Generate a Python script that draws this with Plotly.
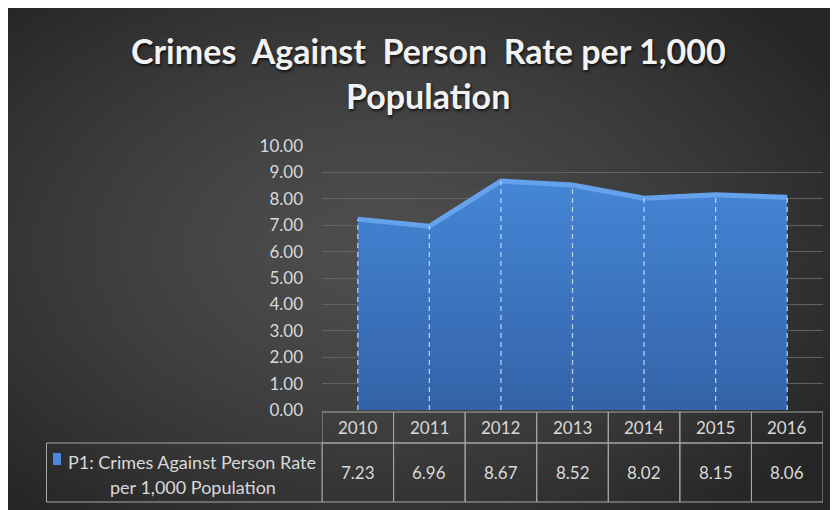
import zlib, struct, base64
import numpy as np
import plotly.graph_objects as go

# ---- data ----
years = ["2010", "2011", "2012", "2013", "2014", "2015", "2016"]
rates = [7.23, 6.96, 8.67, 8.52, 8.02, 8.15, 8.06]
title_lines = ["Crimes  Against  Person  Rate per 1,000", "Population"]
label_lines = ["P1: Crimes Against Person Rate", "per 1,000 Population"]
y_ticks = [0, 1, 2, 3, 4, 5, 6, 7, 8, 9, 10]

# ---- geometry: the page has an 8px body margin, so screen px = figure px + 8 ----
OFF = 8
W, H = 830, 502
ML, MR, MT, MB = 314, 15, 138, 100
PW, PH = W - ML - MR, H - MT - MB


def px_x(p):  # screen pixel -> paper x
    return (p - OFF - ML) / PW


def px_y(p):  # screen pixel -> paper y
    return (H - MB - (p - OFF)) / PH


def gradient_png(w, h, c_in=78, c_out=38, cx=0.45, cy=0.48):
    xs = np.linspace(0, 1, w)
    ys = np.linspace(0, 1, h)
    X, Y = np.meshgrid(xs, ys)
    r = np.sqrt(((X - cx) / 0.65) ** 2 + ((Y - cy) / 0.7) ** 2)
    r = np.clip(r, 0, 1)
    v = (c_in - (c_in - c_out) * r ** 1.4).astype(np.uint8)
    img = np.stack([v, v, v], axis=-1)
    raw = b"".join(b"\x00" + img[j].tobytes() for j in range(h))

    def chunk(t, d):
        return struct.pack(">I", len(d)) + t + d + struct.pack(">I", zlib.crc32(t + d) & 0xFFFFFFFF)

    png = (b"\x89PNG\r\n\x1a\n"
           + chunk(b"IHDR", struct.pack(">IIBBBBB", w, h, 8, 2, 0, 0, 0))
           + chunk(b"IDAT", zlib.compress(raw, 9))
           + chunk(b"IEND", b""))
    return "data:image/png;base64," + base64.b64encode(png).decode()


fig = go.Figure()

# area
fig.add_trace(go.Scatter(
    x=years, y=rates, mode="lines", fill="tozeroy",
    fillgradient=dict(type="vertical", colorscale=[[0, "#3363a8"], [1, "#4586d6"]]),
    line=dict(color="#66a2ec", width=5),
    hoverinfo="skip", showlegend=False,
))

# dashed drop lines at each category
dx, dy = [], []
for yr, v in zip(years, rates):
    dx += [yr, yr, None]
    dy += [0, v, None]
fig.add_trace(go.Scatter(
    x=dx, y=dy, mode="lines",
    line=dict(color="rgba(205,222,245,0.85)", width=1.3, dash="5px,4px"),
    hoverinfo="skip", showlegend=False,
))

shapes = []
annotations = []
grid_col = "#a6a6a6"
txt_col = "#d9d9d9"
font_name = "Lato"
tfont = dict(family=font_name, size=17, color=txt_col)
lfont = dict(family=font_name, size=18, color=txt_col)

# data table: header row and value row
hdr_top, hdr_bot, row_bot = px_y(412), px_y(443), px_y(502)
for i, (yr, v) in enumerate(zip(years, rates)):
    shapes.append(dict(type="rect", xref="x", yref="paper", x0=i - 0.5, x1=i + 0.5,
                       y0=hdr_bot, y1=hdr_top, line=dict(color=grid_col, width=1)))
    shapes.append(dict(type="rect", xref="x", yref="paper", x0=i - 0.5, x1=i + 0.5,
                       y0=row_bot, y1=hdr_bot, line=dict(color=grid_col, width=1)))
    annotations.append(dict(x=i, xref="x", y=(hdr_top + hdr_bot) / 2, yref="paper",
                            xanchor="center", yanchor="middle",
                            text=yr, showarrow=False, font=tfont))
    annotations.append(dict(x=i, xref="x", y=(hdr_bot + row_bot) / 2, yref="paper",
                            xanchor="center", yanchor="middle",
                            text=f"{v:.2f}", showarrow=False, font=tfont))

# row label cell
shapes.append(dict(type="rect", xref="paper", yref="paper", x0=px_x(46.5), x1=px_x(322),
                   y0=row_bot, y1=hdr_bot, line=dict(color=grid_col, width=1)))
shapes.append(dict(type="rect", xref="paper", yref="paper", x0=px_x(53), x1=px_x(61),
                   y0=px_y(465), y1=px_y(453), line=dict(width=0), fillcolor="#4a88d8"))
annotations.append(dict(x=px_x(192), xref="paper", y=px_y(462), yref="paper", text=label_lines[0],
                        xanchor="center", yanchor="middle", showarrow=False, font=lfont))
annotations.append(dict(x=px_x(193), xref="paper", y=px_y(487), yref="paper", text=label_lines[1],
                        xanchor="center", yanchor="middle", showarrow=False, font=lfont))

# title
for line, py in zip(title_lines, [50, 96]):
    annotations.append(dict(x=px_x(428), xref="paper", y=px_y(py), yref="paper", text=f"<b>{line}</b>",
                            xanchor="center", yanchor="middle", showarrow=False,
                            font=dict(family=font_name, size=34, color="#f2f2f2",
                                      shadow="1px 2px 3px rgba(0,0,0,0.7)")))

bg = gradient_png(208, 125)
fig.update_layout(
    width=W, height=H,
    margin=dict(l=ML, r=MR, t=MT, b=MB, pad=0),
    paper_bgcolor="#2a2a2a",
    plot_bgcolor="rgba(0,0,0,0)",
    showlegend=False,
    images=[dict(source=bg, xref="paper", yref="paper",
                 x=px_x(OFF), y=px_y(OFF), sizex=px_x(OFF + W) - px_x(OFF), sizey=px_y(OFF) - px_y(OFF + H),
                 xanchor="left", yanchor="top", sizing="stretch", layer="below")],
    xaxis=dict(type="category", range=[-0.5, len(years) - 0.5], showticklabels=False,
               showgrid=False, zeroline=False, showline=False, ticks=""),
    yaxis=dict(range=[0, 10], tickvals=y_ticks, tickformat=".2f", ticks="",
               showgrid=True, gridcolor="#626262", gridwidth=1, zeroline=False, showline=False,
               tickfont=tfont, ticklabelstandoff=18),
    shapes=shapes,
    annotations=annotations,
)

fig.write_html("out.html")
